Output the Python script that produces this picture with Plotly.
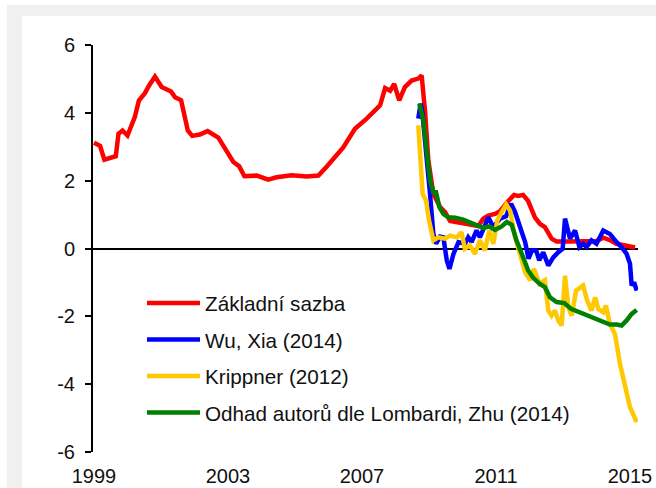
import plotly.graph_objects as go

# Základní sazba (policy rate)
rate_x = [1999.0, 1999.18, 1999.31, 1999.43, 1999.65, 1999.73, 1999.85, 2000.0, 2000.22, 2000.34,
          2000.52, 2000.64, 2000.82, 2001.02, 2001.3, 2001.42, 2001.6, 2001.8, 2001.93, 2002.16,
          2002.39, 2002.71, 2002.96, 2003.16, 2003.33, 2003.49, 2003.86, 2004.2, 2004.45, 2004.9,
          2005.35, 2005.7, 2005.95, 2006.14, 2006.44, 2006.79, 2007.14, 2007.54, 2007.69, 2007.84,
          2007.96, 2008.11, 2008.28, 2008.48, 2008.68, 2008.78, 2008.88, 2008.98, 2009.13, 2009.33,
          2009.48, 2009.63, 2009.93, 2010.22, 2010.47, 2010.62, 2010.77, 2010.97, 2011.12, 2011.32,
          2011.54, 2011.66, 2011.81, 2011.96, 2012.16, 2012.31, 2012.46, 2012.66, 2012.81, 2013.2,
          2013.6, 2014.0, 2014.2, 2014.4, 2014.6, 2014.8, 2015.15]
rate_y = [3.12, 3.03, 2.62, 2.65, 2.72, 3.38, 3.48, 3.33, 3.88, 4.36,
          4.58, 4.80, 5.07, 4.76, 4.63, 4.46, 4.37, 3.48, 3.32, 3.36,
          3.46, 3.27, 2.89, 2.55, 2.43, 2.13, 2.15, 2.03, 2.10, 2.16,
          2.12, 2.15, 2.42, 2.62, 2.98, 3.53, 3.83, 4.22, 4.73, 4.65,
          4.85, 4.37, 4.76, 4.95, 5.01, 5.10, 4.07, 2.60, 1.61, 1.22,
          1.07, 0.81, 0.75, 0.71, 0.66, 0.88, 0.97, 1.02, 1.10, 1.35,
          1.58, 1.55, 1.58, 1.40, 0.92, 0.73, 0.63, 0.29, 0.21, 0.21,
          0.22, 0.22, 0.32, 0.25, 0.14, 0.09, 0.03]

# Wu, Xia (2014) shadow rate
wu_x = [2008.68, 2008.75, 2008.8, 2008.93, 2009.03, 2009.13, 2009.21, 2009.33, 2009.43, 2009.53,
        2009.61, 2009.73, 2009.88, 2010.07, 2010.17, 2010.27, 2010.42, 2010.52, 2010.67, 2010.77,
        2010.92, 2011.12, 2011.3, 2011.45, 2011.57, 2011.67, 2011.77, 2011.87, 2011.97, 2012.07,
        2012.2, 2012.29, 2012.41, 2012.56, 2012.71, 2012.86, 2012.99, 2013.06, 2013.21, 2013.36,
        2013.49, 2013.6, 2013.7, 2013.85, 2014.0, 2014.2, 2014.4, 2014.6, 2014.75, 2014.9,
        2015.0, 2015.05, 2015.12, 2015.2]
wu_y = [3.83, 4.27, 4.02, 2.79, 1.61, 0.43, 0.14, 0.35, 0.33, -0.35,
        -0.60, -0.16, 0.19, 0.14, 0.33, 0.19, 0.53, 0.33, 0.68, 0.92,
        0.63, 0.88, 0.95, 1.32, 1.07, 0.73, 0.48, 0.19, -0.30, -0.06,
        -0.06, -0.35, -0.11, -0.50, -0.26, -0.11, -0.01, 0.88, 0.29, 0.53,
        0.04, 0.14, 0.04, 0.24, 0.14, 0.53, 0.43, 0.19, 0.04, -0.16,
        -0.45, -1.09, -0.99, -1.24]

# Krippner (2012) shadow rate
kr_x = [2008.68, 2008.73, 2008.81, 2008.91, 2009.0, 2009.13, 2009.28, 2009.48, 2009.63, 2009.83,
        2009.97, 2010.07, 2010.22, 2010.37, 2010.52, 2010.67, 2010.8, 2010.92, 2011.04, 2011.17,
        2011.3, 2011.42, 2011.57, 2011.72, 2011.87, 2012.02, 2012.13, 2012.3, 2012.46, 2012.56,
        2012.66, 2012.76, 2012.86, 2012.96, 2013.06, 2013.16, 2013.26, 2013.39, 2013.51, 2013.6,
        2013.72, 2013.85, 2013.96, 2014.05, 2014.2, 2014.28, 2014.4, 2014.55, 2014.7, 2014.85,
        2015.0, 2015.2]
kr_y = [3.63, 2.99, 1.61, 1.42, 0.83, 0.24, 0.33, 0.29, 0.38, 0.33,
        0.48, -0.01, 0.09, -0.16, 0.24, -0.06, 0.53, 0.14, 0.83, 1.07,
        1.30, 1.12, 0.33, -0.18, -0.70, -0.94, -0.60, -1.04, -0.94, -1.83,
        -1.98, -1.83, -2.12, -2.27, -0.80, -1.73, -1.98, -1.24, -1.14, -1.09,
        -1.53, -1.83, -1.44, -1.78, -1.88, -1.68, -2.22, -2.52, -3.40, -4.09,
        -4.68, -5.12]

# Odhad autorů dle Lombardi, Zhu (2014)
lz_x = [2008.71, 2008.83, 2008.93, 2009.03, 2009.13, 2009.21, 2009.31, 2009.43, 2009.58, 2009.78,
        2010.02, 2010.22, 2010.47, 2010.62, 2010.8, 2010.97, 2011.17, 2011.32, 2011.47, 2011.61,
        2011.81, 2011.96, 2012.1, 2012.3, 2012.46, 2012.61, 2012.81, 2013.04, 2013.24, 2013.49,
        2013.7, 2013.9, 2014.15, 2014.4, 2014.6, 2014.75, 2014.9, 2015.05, 2015.2]
lz_y = [4.27, 3.78, 2.89, 2.01, 1.66, 1.66, 1.22, 1.02, 0.92, 0.91,
        0.85, 0.78, 0.68, 0.61, 0.65, 0.55, 0.65, 0.78, 0.70, 0.24,
        -0.26, -0.65, -0.85, -1.04, -1.14, -1.44, -1.58, -1.61, -1.78, -1.88,
        -1.98, -2.07, -2.14, -2.24, -2.24, -2.27, -2.12, -1.93, -1.81]

year_ticks = [1999, 2003, 2007, 2011, 2015]
value_ticks = [-6, -4, -2, 0, 2, 4, 6]
value_labels = ["-6", "-4", "-2", "0", "2", "4", "6"]

series = [
    ("Základní sazba", rate_x, rate_y, "#ff0000", 4.5),
    ("Wu, Xia (2014)", wu_x, wu_y, "#0000ff", 4.5),
    ("Krippner (2012)", kr_x, kr_y, "#ffc800", 4.5),
    ("Odhad autorů dle Lombardi, Zhu (2014)", lz_x, lz_y, "#008000", 4.5),
]

W, H = 656, 488
L, R, T, B = 93, 18, 45, 36
PW, PH = W - L - R, H - T - B
PX_PER_YEAR = 33.5


def px_x(px):
    return (px - L) / PW


def px_y(py):
    return (H - B - py) / PH


fig = go.Figure()
for i, (name, xs, ys, color, width) in enumerate(series):
    fig.add_trace(go.Scatter(
        x=xs, y=ys, name=name, mode="lines", legendgroup=f"g{i}",
        line=dict(color=color, width=width),
    ))

x0 = 1999 - 1 / PX_PER_YEAR
fig.update_layout(
    width=W, height=H,
    margin=dict(l=L, r=R, t=T, b=B, autoexpand=False),
    paper_bgcolor="white", plot_bgcolor="white",
    font=dict(family="Liberation Sans, Arial, sans-serif", size=20, color="#111111"),
    showlegend=True,
    legend=dict(
        x=px_x(142), y=px_y(283), xanchor="left", yanchor="top",
        bgcolor="rgba(0,0,0,0)", font=dict(size=20.7),
        tracegroupgap=6.6, itemwidth=53,
    ),
    xaxis=dict(
        range=[x0, x0 + PW / PX_PER_YEAR], automargin=False,
        tickvals=year_ticks, ticktext=[str(v) for v in year_ticks],
        showline=False, showgrid=False, zeroline=False,
        ticks="", ticklabelstandoff=10,
    ),
    yaxis=dict(
        range=[-6, 6], tickvals=value_ticks, ticktext=value_labels, automargin=False,
        showline=True, linecolor="black", linewidth=2,
        ticks="outside", ticklen=6, tickwidth=2, tickcolor="black",
        showgrid=False, zeroline=True, zerolinecolor="black", zerolinewidth=2,
        ticklabelstandoff=6,
    ),
    shapes=[
        dict(type="rect", xref="paper", yref="paper", layer="below",
             x0=px_x(7), x1=px_x(W + 20), y0=px_y(H + 20), y1=px_y(5),
             fillcolor="#f0f0f0", line=dict(width=0)),
        dict(type="rect", xref="paper", yref="paper", layer="below",
             x0=px_x(22), x1=px_x(W + 20), y0=px_y(H + 20), y1=px_y(16),
             fillcolor="white", line=dict(width=0)),
    ],
)

fig.write_html("out.html")
